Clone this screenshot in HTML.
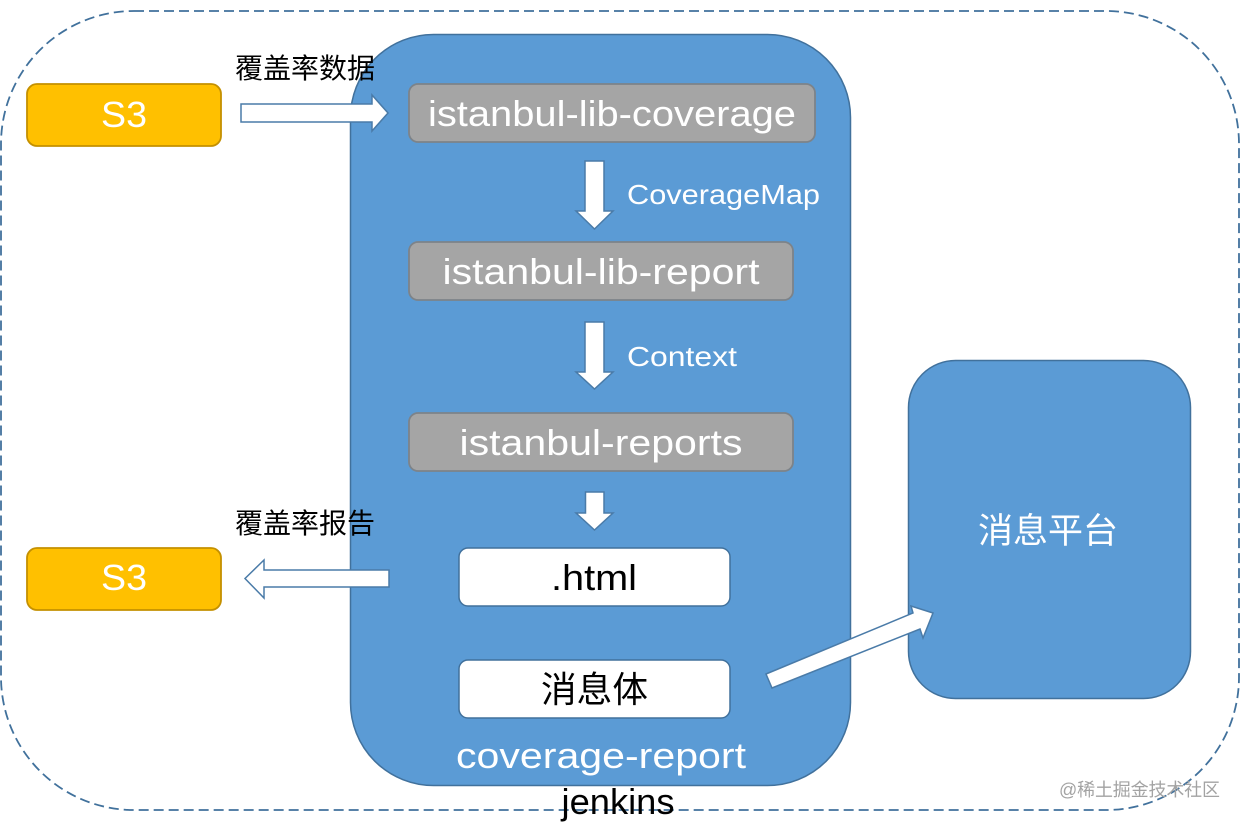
<!DOCTYPE html>
<html>
<head>
<meta charset="utf-8">
<style>
html,body{margin:0;padding:0;background:#fff;width:1242px;height:822px;overflow:hidden}
svg{display:block;filter:blur(.35px)}
text{font-family:"Liberation Sans","Noto Sans CJK SC",sans-serif}
</style>
</head>
<body>
<svg width="1242" height="822" viewBox="0 0 1242 822" xmlns="http://www.w3.org/2000/svg">
<rect width="1242" height="822" fill="#fff"/>
<rect x="1" y="11" width="1238" height="799" rx="133" ry="133" fill="none" stroke="#41719c" stroke-width="1.800" stroke-dasharray="10 5"/>
<rect x="350.500" y="34.500" width="500" height="751" rx="83" ry="83" fill="#5b9bd5" stroke="#41719c" stroke-width="1.500"/>
<rect x="908.500" y="360.500" width="282" height="338" rx="47" ry="47" fill="#5b9bd5" stroke="#41719c" stroke-width="1.500"/>

<rect x="27" y="84" width="194" height="62" rx="10" fill="#ffc000" stroke="#c49000" stroke-width="1.800"/>
<rect x="27" y="548" width="194" height="62" rx="10" fill="#ffc000" stroke="#c49000" stroke-width="1.800"/>

<rect x="409" y="84" width="406" height="58" rx="9" fill="#a5a5a5" stroke="#7d8389" stroke-width="1.800"/>
<rect x="409" y="242" width="384" height="58" rx="9" fill="#a5a5a5" stroke="#7d8389" stroke-width="1.800"/>
<rect x="409" y="413" width="384" height="58" rx="9" fill="#a5a5a5" stroke="#7d8389" stroke-width="1.800"/>
<rect x="459" y="548" width="271" height="58" rx="9" fill="#fff" stroke="#41719c" stroke-width="1.500"/>
<rect x="459" y="660" width="271" height="58" rx="9" fill="#fff" stroke="#41719c" stroke-width="1.500"/>

<g stroke="#4a7ba8" stroke-width="1.500" fill="#fff" stroke-linejoin="miter">
<polygon points="241,104 372,104 372,95 388,113 372,131 372,122 241,122"/>
<polygon points="389,570 264,570 264,560 245,578.500 264,598 264,587 389,587"/>
<polygon points="585,161 604,161 604,211 613,211 594.500,229 576,211 585,211"/>
<polygon points="585,322 604,322 604,372 613,372 594.500,389 576,372 585,372"/>
<polygon points="585.500,492 604,492 604,513 613,513 594.500,530 576,513 585.500,513"/>
<polygon points="766,674 913,613 911,606 933,613 923,638 920,629 772,688"/>
</g>

<g fill="#fff" text-anchor="middle" font-size="36">
<text x="124" y="127" textLength="46" lengthAdjust="spacingAndGlyphs">S3</text>
<text x="124" y="590" textLength="46" lengthAdjust="spacingAndGlyphs">S3</text>
<text x="612" y="126" font-size="36" textLength="368" lengthAdjust="spacingAndGlyphs">istanbul-lib-coverage</text>
<text x="601" y="284" textLength="317" lengthAdjust="spacingAndGlyphs">istanbul-lib-report</text>
<text x="601" y="455" textLength="283" lengthAdjust="spacingAndGlyphs">istanbul-reports</text>
<text x="601" y="768" textLength="290" lengthAdjust="spacingAndGlyphs">coverage-report</text>
<text x="1048" y="543" font-size="35" textLength="140" lengthAdjust="spacingAndGlyphs">消息平台</text>
</g>
<g fill="#fff" font-size="28">
<text x="627" y="204" textLength="193" lengthAdjust="spacingAndGlyphs">CoverageMap</text>
<text x="627" y="366" textLength="110" lengthAdjust="spacingAndGlyphs">Context</text>
</g>
<g fill="#000" text-anchor="middle">
<text x="594" y="590" font-size="36" textLength="86" lengthAdjust="spacingAndGlyphs">.html</text>
<text x="594.500" y="702" font-size="36" textLength="107" lengthAdjust="spacingAndGlyphs">消息体</text>
<text x="618" y="814" font-size="36" textLength="113" lengthAdjust="spacingAndGlyphs">jenkins</text>
<text x="305" y="78" font-size="28">覆盖率数据</text>
<text x="305" y="533" font-size="28">覆盖率报告</text>
</g>
<text x="1059" y="796" font-size="18" fill="#a3a3a3" textLength="161">@稀土掘金技术社区</text>
</svg>
</body>
</html>
